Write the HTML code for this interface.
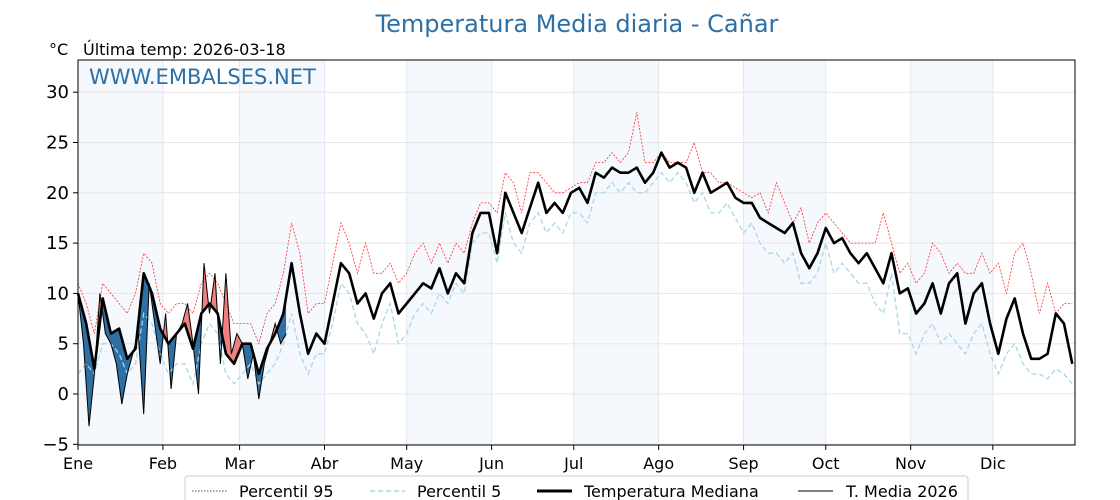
<!DOCTYPE html>
<html><head><meta charset="utf-8"><style>
body{margin:0;background:#fff;font-family:"Liberation Sans","DejaVu Sans",sans-serif}
svg{display:block}
</style></head><body>
<svg id="chart" width="1120" height="500" font-family="DejaVu Sans, Liberation Sans, sans-serif">
<text x="577" y="32" text-anchor="middle" font-size="24" fill="#2e6fa4">Temperatura Media diaria - Cañar</text>
<text x="49" y="55" font-size="16" fill="#000">°C</text>
<text x="83" y="55" font-size="16" fill="#000">Última temp: 2026-03-18</text>
<g id="bands"></g><g id="grid"></g><g id="fills"></g><g id="lines"></g>
<rect x="78" y="60" width="997" height="385" fill="none" stroke="#000" stroke-width="1"/>
<text x="89" y="84" font-size="21" fill="#2e6fa4">WWW.EMBALSES.NET</text>
<g id="axes"></g>
<g>
<rect x="185" y="476" width="783" height="32" rx="3" fill="#fff" stroke="#ccc"/>
<g><line x1="192" y1="491" x2="227" y2="491" stroke="#555" stroke-width="1" stroke-dasharray="1.5,1.5"/><text x="239" y="497" font-size="16">Percentil 95</text></g>
<g><line x1="370" y1="491" x2="405" y2="491" stroke="#a8d8e6" stroke-width="1.5" stroke-dasharray="5,3"/><text x="417" y="497" font-size="16">Percentil 5</text></g>
<g><line x1="537" y1="491" x2="572" y2="491" stroke="#000" stroke-width="3"/><text x="584" y="497" font-size="16">Temperatura Mediana</text></g>
<g><line x1="798" y1="491" x2="833" y2="491" stroke="#000" stroke-width="1"/><text x="846" y="497" font-size="16">T. Media 2026</text></g>
</g>
</svg>
<script>
const medDays=[0,3,6,9,12,15,18,21,24,27,30,33,36,39,42,45,48,51,54,57,60,63,66,69,72,75,78,81,84,87,90,93,96,99,102,105,108,111,114,117,120,123,126,129,132,135,138,141,144,147,150,153,156,159,162,165,168,171,174,177,180,183,186,189,192,195,198,201,204,207,210,213,216,219,222,225,228,231,234,237,240,243,246,249,252,255,258,261,264,267,270,273,276,279,282,285,288,291,294,297,300,303,306,309,312,315,318,321,324,327,330,333,336,339,342,345,348,351,354,357,360,363];
const median=[10,7,2.5,9.5,6,6.5,3.5,4.5,12,10,6.5,5,6,7,4.5,8,9,8,4,3,5,5,2,4.5,6,8,13,8,4,6,5,9,13,12,9,10,7.5,10,11,8,9,10,11,10.5,12.5,10,12,11,16,18,18,14,20,18,16,18.5,21,18,19,18,20,20.5,19,22,21.5,22.5,22,22,22.5,21,22,24,22.5,23,22.5,20,22,20,20.5,21,19.5,19,19,17.5,17,16.5,16,17,14,12.5,14,16.5,15,15.5,14,13,14,12.5,11,14,10,10.5,8,9,11,8,11,12,7,10,11,7,4,7.5,9.5,6,3.5,3.5,4,8,7,3];
const p95=[11,9,6,11,10,9,8,10,14,13,9,8,9,9,8,11,12,11,9,7,7,7,5,8,9,12,17,14,8,9,9,13,17,15,12,15,12,12,13,11,12,14,15,13,15,13,15,14,17,19,19,18,22,21,18,22,22,21,20,20,20.5,21,21,23,23,24,23,24,28,23,23,24,23,23,23,25,22,22,21,21,20.5,20,19.5,20,18,21,19,17,18.5,15,17,18,17,16,15,15,15,15,18,15,12,13,11,12,15,14,12,13,12,12,14,12,13,10,14,15,12,8,11,8,9,9,9,8];
const p5=[2,3,2,5,5,4,2,3,8,7,4,2,3,3,1,5,7,6,2,1,2,3,1,2,3,5,8,4,2,4,4,7,11,10,7,6,4,7,9,5,6,8,9,8,10,9,11,10,15,16,16,13,18,15,14,17,18,16,17,16,18,18,17,20,20,21,20,21,20,20,21,22,21,22,21,19,20,18,18,19,17.5,16,17,15,14,14,13,14,11,11,12,15,12,13,12,11,11,9,8,12,6,6,4,6,7,5,6,5,4,6,7,4,2,4,5,3,2,2,1.5,2.5,2,1];
const yearDays=[0,2,4,6,8,10,12,14,16,18,20,22,24,26,28,30,32,34,36,38,40,42,44,46,48,50,52,54,56,58,60,62,64,66,68,70,72,74,76];
const year2026=[10,5,-3.2,2,10,6,5,3,-1,2,4,6,-2,11,7,3,8,0.5,6,7,9,5,0,13,8,12,3,12,4,6,5,1.5,4,-0.5,3,5,7,5,6];
const yTicks=[-5,0,5,10,15,20,25,30];
const monthLabels=["Ene","Feb","Mar","Abr","May","Jun","Jul","Ago","Sep","Oct","Nov","Dic"];
const monthStart=[0,31,59,90,120,151,181,212,243,273,304,334];
const NS="http://www.w3.org/2000/svg";
const X=d=>78+d*997/364, Y=v=>394-v*10.06;
function mk(tag,attrs,parent){const e=document.createElementNS(NS,tag);for(const k in attrs)e.setAttribute(k,attrs[k]);document.getElementById(parent).appendChild(e);return e;}
monthStart.forEach((m,i)=>{if(i%2===0){const e=i<11?monthStart[i+1]:365;
const r=mk('rect',{x:X(m),y:60,width:X(e)-X(m),height:385,fill:'#f5f8fc'},'bands');

}});
yTicks.forEach(v=>{const l=mk('line',{x1:78,x2:1075,y1:Y(v),y2:Y(v),stroke:'#e6e6e6'},'grid');


mk('line',{x1:73,x2:78,y1:Y(v),y2:Y(v),stroke:'#000'},'axes');
const t=mk('text',{x:69,y:Y(v)+6,'text-anchor':'end','font-size':18},'axes');
t.textContent=(v<0?'\u2212'+(-v):v);

});
monthStart.forEach((m,i)=>{const l=mk('line',{x1:X(m),x2:X(m),y1:60,y2:445,stroke:'#e3e8ee'},'grid');


mk('line',{x1:X(m),x2:X(m),y1:445,y2:450,stroke:'#000'},'axes');
const t=mk('text',{x:X(m),y:469,'text-anchor':'middle','font-size':16},'axes');
t.textContent=monthLabels[i];

});
const pts=(ds,vs)=>ds.map((d,i)=>X(d).toFixed(1)+','+Y(vs[i]).toFixed(1)).join(' ');
function medAt(d){for(let i=0;i<medDays.length-1;i++){if(d>=medDays[i]&&d<=medDays[i+1]){const t=(d-medDays[i])/(medDays[i+1]-medDays[i]);return median[i]+t*(median[i+1]-median[i]);}}return median[median.length-1];}
const last=yearDays[yearDays.length-1];
const medPart=[];for(let i=0;i<medDays.length&&medDays[i]<last;i++)medPart.push([medDays[i],median[i]]);medPart.push([last,medAt(last)]);
const between=pts(yearDays,year2026)+' '+medPart.slice().reverse().map(p=>X(p[0]).toFixed(1)+','+Y(p[1]).toFixed(1)).join(' ');
const medLine=medPart.map(p=>X(p[0]).toFixed(1)+','+Y(p[1]).toFixed(1)).join(' ');
const defs=mk('defs',{},'fills');
const ca=document.createElementNS(NS,'clipPath');ca.setAttribute('id','above');defs.appendChild(ca);
const pa=document.createElementNS(NS,'polygon');pa.setAttribute('points',X(0)+',0 '+medLine+' '+X(last)+',0');ca.appendChild(pa);
const cb=document.createElementNS(NS,'clipPath');cb.setAttribute('id','below');defs.appendChild(cb);
const pb=document.createElementNS(NS,'polygon');pb.setAttribute('points',X(0)+',500 '+medLine+' '+X(last)+',500');cb.appendChild(pb);
const fr=mk('polygon',{points:between,fill:'#f08080','clip-path':'url(#above)'},'fills');


const fb=mk('polygon',{points:between,fill:'#2e6fa4','clip-path':'url(#below)'},'fills');


const l95=mk('polyline',{points:pts(medDays,p95),fill:'none',stroke:'#ff3030','stroke-width':0.8,'stroke-dasharray':'2,1.5'},'lines');


const l5=mk('polyline',{points:pts(medDays,p5),fill:'none',stroke:'#a8d8e6','stroke-width':1.3,'stroke-dasharray':'5,3'},'lines');


const lm=mk('polyline',{points:pts(medDays,median),fill:'none',stroke:'#000','stroke-width':2.6,'stroke-linejoin':'round'},'lines');


const ly=mk('polyline',{points:pts(yearDays,year2026),fill:'none',stroke:'#000','stroke-width':1},'lines');


</script>
</body></html>
